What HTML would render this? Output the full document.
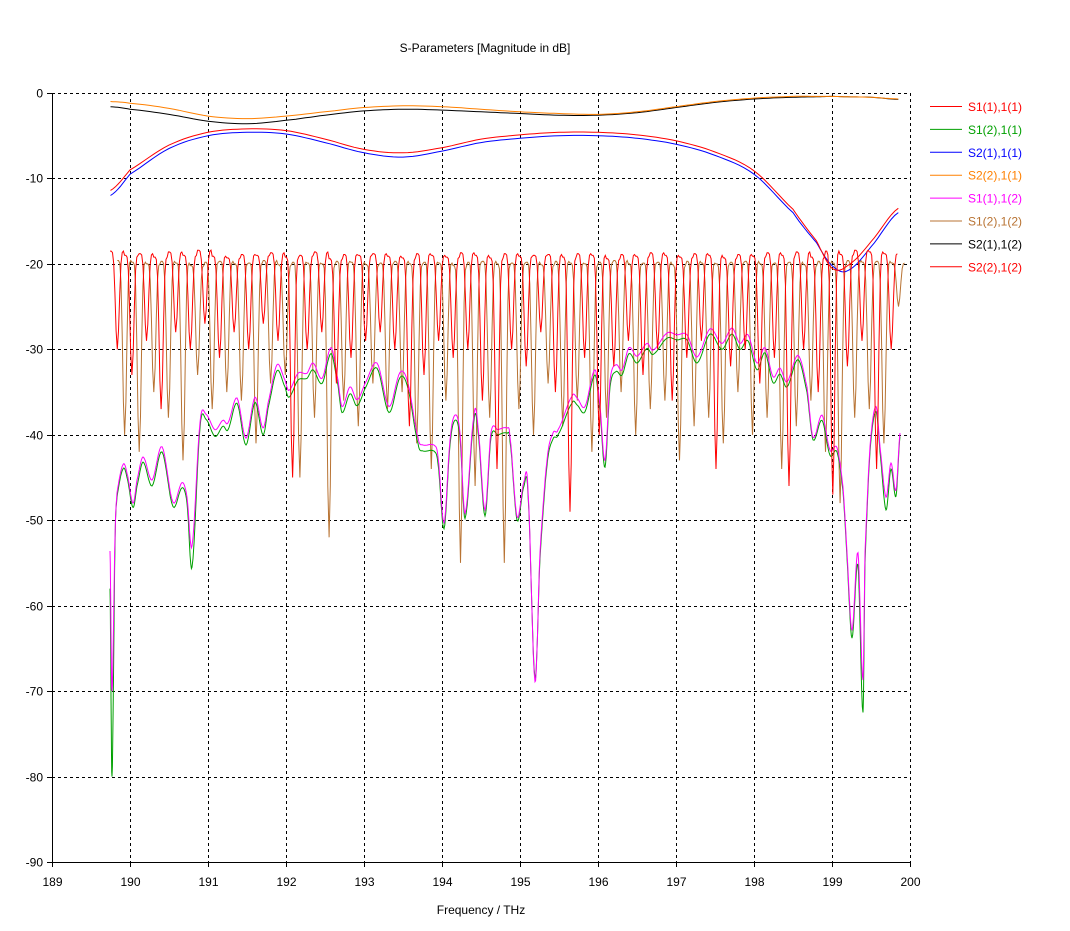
<!DOCTYPE html>
<html><head><meta charset="utf-8"><style>
html,body{margin:0;padding:0;background:#fff;}
svg{display:block;font-family:"Liberation Sans",sans-serif;}
</style></head><body>
<svg id="chart" width="1070" height="931" viewBox="0 0 1070 931">
<text x="485" y="52" font-size="12" text-anchor="middle">S-Parameters [Magnitude in dB]</text>
<text x="481" y="914" font-size="12" text-anchor="middle">Frequency / THz</text>
<g id="grid"></g>
<g id="series"></g>
<g id="axes"></g>
<g id="legend"></g>
</svg>
<script>
// ---- data ----
const xTicks = [189,190,191,192,193,194,195,196,197,198,199,200];
const yTicks = [0,-10,-20,-30,-40,-50,-60,-70,-80,-90];
const seriesNames = ["S1(1),1(1)","S1(2),1(1)","S2(1),1(1)","S2(2),1(1)","S1(1),1(2)","S1(2),1(2)","S2(1),1(2)","S2(2),1(2)"];
const seriesColors = ["#ff0000","#00a000","#0000ff","#ff8000","#ff00ff","#b87333","#000000","#ff0000"];

const smoothFreq = [189.75,190,190.5,191,191.5,192,192.5,193,193.5,194,194.5,195,195.5,196,196.5,197,197.5,198,198.5,198.8,199,199.2,199.5,199.85];
const s21Vals = [-12,-9.5,-6.5,-5,-4.6,-4.8,-5.8,-7,-7.5,-6.8,-5.8,-5.3,-5,-5,-5.3,-6,-7.3,-9.5,-14,-17.5,-20.2,-20.8,-18,-14];
const s11Vals = [-11.4,-9,-6.1,-4.6,-4.2,-4.4,-5.4,-6.6,-7,-6.4,-5.4,-4.9,-4.6,-4.6,-4.9,-5.6,-6.9,-9.1,-13.6,-17.3,-20.5,-20.2,-17.4,-13.5];
const s22Vals = [-1,-1.2,-1.8,-2.7,-3,-2.7,-2.2,-1.7,-1.5,-1.6,-1.9,-2.2,-2.4,-2.5,-2.2,-1.6,-1,-0.6,-0.4,-0.4,-0.4,-0.45,-0.5,-0.7];
const s21bVals = [-1.6,-1.9,-2.5,-3.3,-3.6,-3.2,-2.6,-2.1,-1.9,-2,-2.2,-2.4,-2.6,-2.6,-2.3,-1.7,-1.1,-0.7,-0.5,-0.45,-0.4,-0.45,-0.5,-0.75];

const lowFreq = [189.744,189.769,189.808,189.833,189.910,189.962,190.038,190.090,190.167,190.282,
190.410,190.551,190.667,190.731,190.795,190.897,190.974,191.090,191.192,191.256,
191.372,191.487,191.603,191.705,191.769,191.885,191.987,192.038,192.154,192.269,
192.346,192.462,192.577,192.667,192.718,192.821,192.910,193.013,193.167,193.321,
193.462,193.564,193.692,193.756,193.897,193.949,194.026,194.103,194.167,194.231,
194.295,194.410,194.462,194.551,194.628,194.718,194.833,
194.872,194.962,195.051,195.103,195.192,195.256,195.346,195.423,195.487,195.667,
195.731,195.833,195.962,196.026,196.090,196.154,196.231,196.308,196.397,196.500,
196.628,196.705,196.885,197.013,197.141,197.269,197.436,197.590,197.718,197.821,
197.923,198.038,198.141,198.244,198.333,198.423,198.564,198.679,198.756,198.872,
198.974,199.064,199.141,199.192,199.256,199.333,199.397,199.423,199.487,199.564,
199.615,199.692,199.756,199.821,199.872];
const s11LowVals = [-53.6,-70,-52,-46.8,-43.5,-44.5,-48,-45.3,-42.6,-45.3,
-41.4,-47.9,-45.6,-47.3,-53,-38.6,-37.6,-39.4,-38.3,-38.6,
-35.7,-40.4,-35.6,-39.2,-36.3,-31.8,-33.6,-34.8,-32.8,-32.8,
-31.6,-33.4,-29.8,-33.6,-36.7,-34.4,-35.9,-34,-31.6,-36.7,
-32.7,-34,-40.3,-41.2,-41.2,-42.6,-50.3,-40.6,-37.7,-39.8,
-49.2,-37.7,-39.1,-48.8,-39.7,-39.4,-39.2,
-40.3,-49.6,-45.5,-46.5,-68.9,-53.8,-43,-39.8,-39.4,-35.5,
-35.7,-36.7,-32.4,-36.7,-43,-33.6,-31.8,-32.4,-29.8,-30.8,
-29.3,-30.1,-28.1,-28.3,-28.3,-30.9,-27.6,-29.3,-27.5,-29.3,
-28.3,-31.6,-29.8,-33.2,-32.2,-33.8,-30.7,-34.4,-40.3,-37.7,
-41.8,-41.5,-46.1,-53.8,-62.9,-53.8,-68.7,-53.8,-41.4,-36.7,
-41.4,-47.3,-43.3,-46.5,-39.8];
const s12LowVals = [-58,-80,-53,-47.3,-44,-45,-48.5,-46,-43.2,-46,
-42,-48.4,-46.2,-48,-55.5,-39.2,-38.2,-40.2,-39,-39.4,
-36.3,-41.2,-36.2,-40,-36.9,-32.5,-34.4,-35.6,-33.6,-33.4,
-32.4,-34,-30.5,-34.2,-37.4,-35.2,-36.6,-34.6,-32.2,-37.4,
-33.3,-34.6,-41,-41.9,-41.9,-43.4,-51,-41.2,-38.3,-40.4,
-49.8,-38.3,-39.7,-49.5,-40.3,-40,-39.8,
-40.8,-50,-46,-47,-68.5,-54.5,-43.6,-40.5,-40,-36.3,
-36.5,-37.3,-33,-37.3,-43.8,-34.4,-32.6,-33,-30.5,-31.6,
-29.9,-30.6,-28.7,-28.9,-28.9,-31.6,-28.2,-30,-28.2,-30,
-29,-32.4,-30.4,-33.9,-32.9,-34.4,-31.2,-35,-40.6,-38.3,
-42.4,-42,-46.6,-54.4,-63.8,-55.2,-72.5,-55,-42,-37.3,
-42,-48.8,-44,-47.2,-40.2];

const ringStart = 189.744;
const ringStep = 0.1872;
const redPeaks = [-18.5,-19,-18.8,-19.2,-18.6,-19,-18.4,-19.1,-19.3,-18.9,-19,-18.7,-19.2,-19,-18.6,-19.4,-18.9,-19,-18.8,-19.1,-19.3,-18.8,-19,-19.2,-18.7,-19,-19.3,-18.8,-19.1,-19,-18.9,-19.2,-18.8,-19,-19.4,-18.9,-19.1,-18.7,-19,-19.2,-18.8,-19,-19.3,-18.9,-19.1,-18.7,-19,-18.6,-19.2,-18.5,-18.9,-18.4,-18.6,-18.8];
const redDips = [-30,-33,-29,-37,-28,-30,-27,-31,-28,-30,-27,-29,-45,-30,-28,-34,-31,-29,-28,-30,-39,-33,-29,-31,-30,-36,-44,-30,-32,-28,-35,-49,-31,-40,-32,-29,-33,-30,-36,-31,-29,-44,-32,-30,-34,-31,-46,-30,-35,-47,-32,-29,-44,-30];
const brownPeaks = [-19.6,-19.8,-20,-19.7,-19.9,-20.2,-19.8,-19.7,-20,-19.9,-19.6,-20.1,-19.8,-19.9,-20,-19.7,-19.8,-20.1,-19.9,-19.7,-20,-19.8,-19.9,-20.2,-19.8,-19.7,-20,-19.9,-19.8,-20.1,-19.7,-19.9,-20,-19.8,-19.6,-20,-19.9,-19.8,-20.1,-19.7,-19.9,-20,-19.8,-19.7,-20,-19.9,-19.8,-20.1,-19.7,-19.9,-19.6,-19.8,-19.7,-19.9];
const brownDips = [-40,-42,-35,-38,-43,-33,-37,-35,-36,-41,-34,-33,-45,-38,-52,-36,-39,-34,-37,-35,-41,-44,-36,-55,-46,-38,-55,-37,-40,-34,-39,-36,-42,-38,-35,-40,-37,-36,-43,-39,-38,-41,-35,-40,-38,-44,-39,-36,-42,-48,-38,-37,-41,-25];

// ---- axes ----
const X0=52, X1=910, Y0=93, Y1=862;
const xs = f => X0 + (f-189)/(200-189)*(X1-X0);
const ys = v => Y0 + (0-v)/(90)*(Y1-Y0);
const NS="http://www.w3.org/2000/svg";
function mk(tag, parent){ const e=document.createElementNS(NS,tag); parent.appendChild(e); return e; }
const grid=document.getElementById('grid'), axes=document.getElementById('axes'), ser=document.getElementById('series'), leg=document.getElementById('legend');

xTicks.forEach(t=>{
  const x=Math.round(xs(t))+0.5;
  if(t>189){ const l=mk('line',grid);
    
    
    l.setAttribute('x1',x);l.setAttribute('x2',x);l.setAttribute('y1',Y0);l.setAttribute('y2',Y1);
    l.setAttribute('stroke','#000');l.setAttribute('stroke-dasharray','3,3');}
  const tk=mk('line',axes);
  
  
  tk.setAttribute('x1',x);tk.setAttribute('x2',x);tk.setAttribute('y1',Y1);tk.setAttribute('y2',Y1+5);tk.setAttribute('stroke','#000');
  const tx=mk('text',axes);
  
  
  tx.setAttribute('x',x);tx.setAttribute('y',Y1+24);tx.setAttribute('font-size','12');tx.setAttribute('text-anchor','middle');tx.textContent=t;
});
yTicks.forEach(t=>{
  const y=Math.round(ys(t))+0.5;
  if(t>-90){ const l=mk('line',grid);
    
    
    l.setAttribute('x1',X0);l.setAttribute('x2',X1);l.setAttribute('y1',y);l.setAttribute('y2',y);
    l.setAttribute('stroke','#000');l.setAttribute('stroke-dasharray','3,3');}
  const tk=mk('line',axes);
  
  
  tk.setAttribute('x1',X0-5);tk.setAttribute('x2',X0);tk.setAttribute('y1',y);tk.setAttribute('y2',y);tk.setAttribute('stroke','#000');
  const tx=mk('text',axes);
  
  
  tx.setAttribute('x',X0-9);tx.setAttribute('y',y+4);tx.setAttribute('font-size','12');tx.setAttribute('text-anchor','end');tx.textContent=t;
});
const ax1=mk('line',axes);


ax1.setAttribute('x1',X0+0.5);ax1.setAttribute('x2',X0+0.5);ax1.setAttribute('y1',Y0);ax1.setAttribute('y2',Y1+0.5);ax1.setAttribute('stroke','#000');
const ax2=mk('line',axes);


ax2.setAttribute('x1',X0);ax2.setAttribute('x2',X1);ax2.setAttribute('y1',Y1+0.5);ax2.setAttribute('y2',Y1+0.5);ax2.setAttribute('stroke','#000');

function poly(pts,color,name){
  const p=mk('polyline',ser);
  
  
  p.setAttribute('points',pts.map(q=>q[0].toFixed(1)+','+q[1].toFixed(1)).join(' '));
  p.setAttribute('fill','none');p.setAttribute('stroke',color);p.setAttribute('stroke-width','1');
}
function smoothPts(fr,vals){
  const pts=[];
  for(let i=0;i<fr.length-1;i++){
    for(let k=0;k<8;k++){ const t=k/8;
      const p0=vals[Math.max(i-1,0)],p1=vals[i],p2=vals[i+1],p3=vals[Math.min(i+2,vals.length-1)];
      const f1=fr[i],f2=fr[i+1];
      const cr=(a,b,c,d)=>0.5*((2*b)+(-a+c)*t+(2*a-5*b+4*c-d)*t*t+(-a+3*b-3*c+d)*t*t*t);
      pts.push([xs(f1+(f2-f1)*t),ys(cr(p0,p1,p2,p3))]);
    }
  }
  pts.push([xs(fr[fr.length-1]),ys(vals[vals.length-1])]);
  return pts;
}
function ringPts(start,peaks,dips){
  const pts=[];
  for(let i=0;i<peaks.length;i++){
    for(let k=0;k<12;k++){ const t=k/12;
      const s=Math.pow((1-Math.cos(2*Math.PI*t))/2,3);
      pts.push([xs(start+(i+t)*ringStep),ys(peaks[i]+(dips[i]-peaks[i])*s)]);
    }
  }
  return pts;
}
// draw order
poly(ringPts(ringStart+ringStep/2,brownPeaks,brownDips),seriesColors[5],'series-s12-12');
poly(smoothPts(lowFreq,s12LowVals),seriesColors[1],'series-s12-11');
poly(smoothPts(lowFreq,s11LowVals),seriesColors[4],'series-s11-12');
poly(smoothPts(smoothFreq,s21Vals),seriesColors[2],'series-s21-11');
poly(smoothPts(smoothFreq,s11Vals),seriesColors[0],'series-s11-11');
poly(smoothPts(smoothFreq,s21bVals),seriesColors[6],'series-s21-12');
poly(smoothPts(smoothFreq,s22Vals),seriesColors[3],'series-s22-11');
poly(ringPts(ringStart,redPeaks,redDips),seriesColors[7],'series-s22-12');

seriesNames.forEach((n,i)=>{
  const y=106.5+i*22.9;
  const l=mk('line',leg);
  
  
  l.setAttribute('x1',930);l.setAttribute('x2',962);l.setAttribute('y1',y);l.setAttribute('y2',y);l.setAttribute('stroke',seriesColors[i]);
  const t=mk('text',leg);
  
  
  t.setAttribute('x',968);t.setAttribute('y',y+4.5);t.setAttribute('font-size','12');t.setAttribute('fill',seriesColors[i]);t.textContent=n;
});
</script>
</body></html>
